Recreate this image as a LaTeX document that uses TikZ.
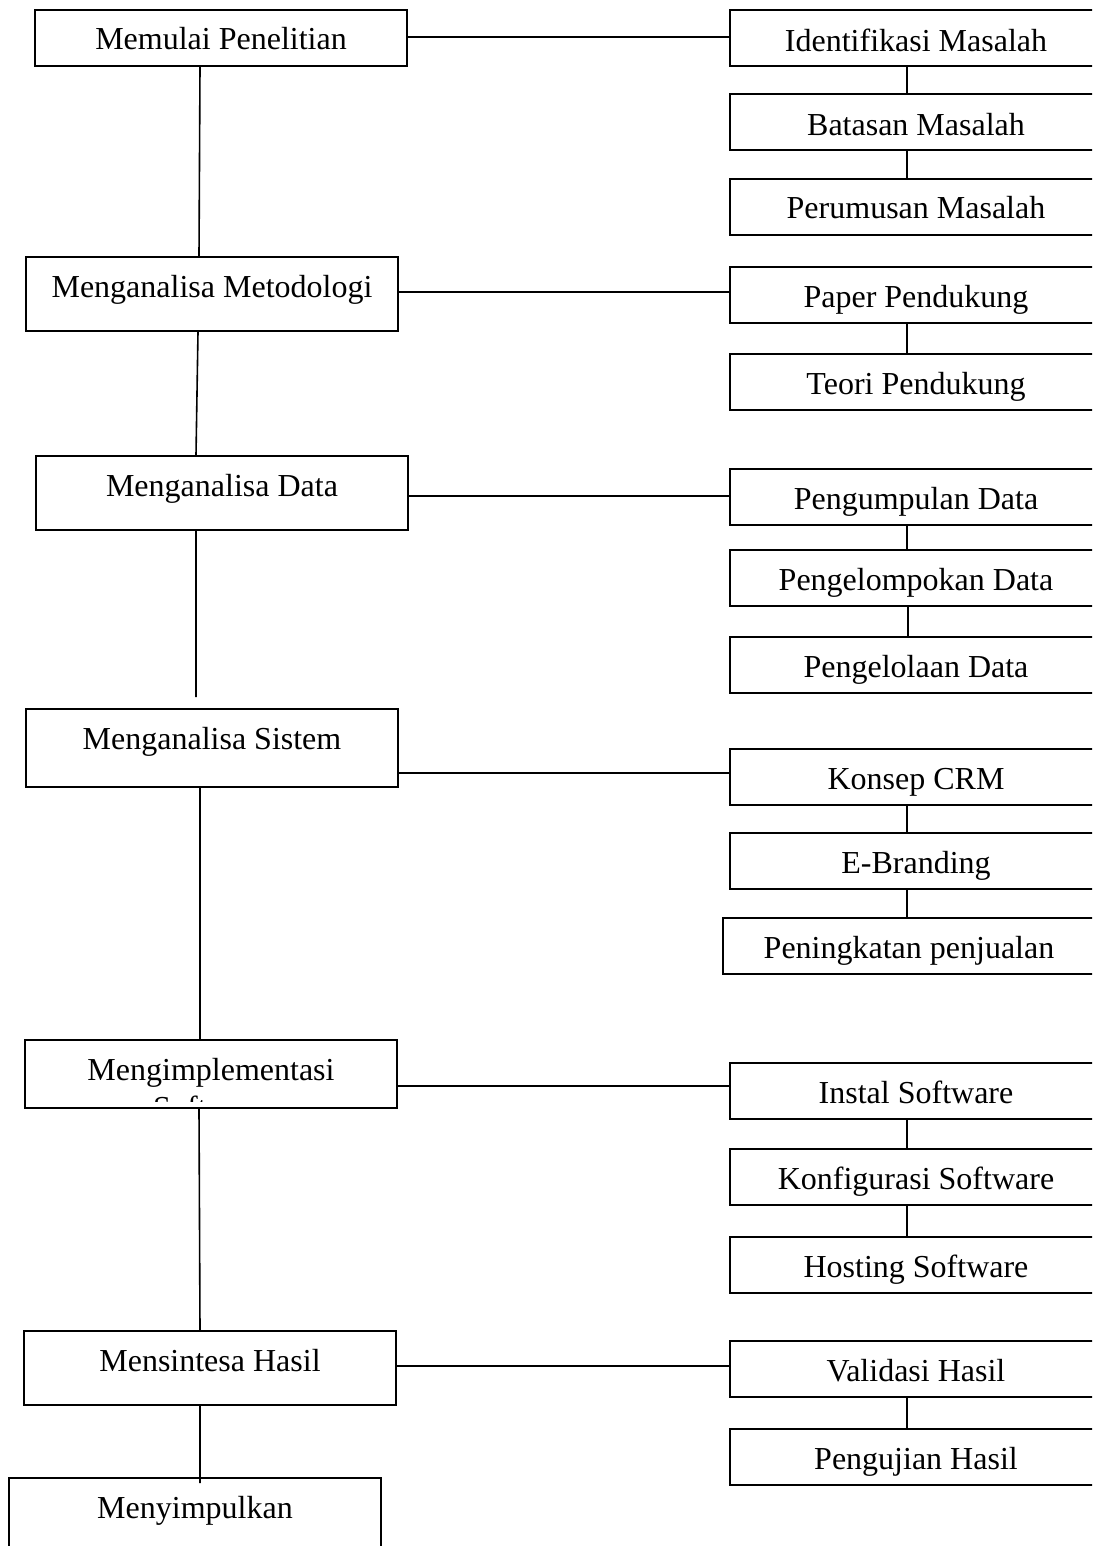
\documentclass[tikz,border=0pt]{standalone}
\usepackage{fontspec}
\setmainfont{Liberation Serif}

\tikzset{
	box/.style={draw, line width=1pt, inner sep=0pt, anchor=north west,
		minimum width=186pt, text height=20pt, text depth=#1,
		font=\fontsize{16}{18.5}\selectfont},
	box/.default=8pt,
	link/.style={line width=0.8pt}
}

\begin{document}
\begin{tikzpicture}[x=0.5pt, y=-0.5pt]
		\clip (0,0) rectangle (1092,1546);

		% tahapan utama
		\node [box=8pt] (memulai) at (34,9) {Memulai Penelitian};
		\node [box=17pt] (metodologi) at (25,256) {Menganalisa Metodologi};
		\node [box=17pt] (data) at (35,455) {Menganalisa Data};
		\node [box=19pt] (sistem) at (25,708) {Menganalisa Sistem};
		\node [box=14pt] (impl) at (24,1039) {Mengimplementasi};
		\node [box=17pt] (sintesa) at (23,1330) {Mensintesa Hasil};
		\node [box=25pt] (simpul) at (8,1477) {Menyimpulkan};

		\begin{scope}
			\clip (impl.north west) rectangle ([yshift=4pt]impl.south east);
			\node [anchor=base, font=\fontsize{16}{18.5}\selectfont] (implsoft) at ([yshift=-19pt]impl.base) {Software};
		\end{scope}

		% rincian
		\node [box, text height=21pt, text depth=7pt] (identifikasi) at (729,9) {Identifikasi Masalah};
		\node [box, text height=21pt, text depth=7pt] (batasan) at (729,93) {Batasan Masalah};
		\node [box] (perumusan) at (729,178) {Perumusan Masalah};
		\node [box] (paper) at (729,266) {Paper Pendukung};
		\node [box] (teori) at (729,353) {Teori Pendukung};
		\node [box] (kumpul) at (729,468) {Pengumpulan Data};
		\node [box] (kelompok) at (729,549) {Pengelompokan Data};
		\node [box] (kelola) at (729,636) {Pengelolaan Data};
		\node [box] (crm) at (729,748) {Konsep CRM};
		\node [box] (branding) at (729,832) {E-Branding};
		\node [box] (penjualan) at (722,917) {Peningkatan penjualan};
		\node [box] (instal) at (729,1062) {Instal Software};
		\node [box] (konfigurasi) at (729,1148) {Konfigurasi Software};
		\node [box] (hosting) at (729,1236) {Hosting Software};
		\node [box] (validasi) at (729,1340) {Validasi Hasil};
		\node [box] (uji) at (729,1428) {Pengujian Hasil};

		% alur kiri
		\draw [link]
		([xshift=83pt]memulai.south west) -- ([xshift=87pt]metodologi.north west)
		([xshift=86.5pt]metodologi.south west) -- ([xshift=80.5pt]data.north west)
		([xshift=80.5pt]data.south west) -- ([xshift=85.5pt, yshift=5.5pt]sistem.north west)
		([xshift=87.5pt]sistem.south west) -- ([xshift=88pt]impl.north west)
		([xshift=87.5pt]impl.south west) -- ([xshift=88.5pt]sintesa.north west)
		([xshift=88.5pt]sintesa.south west) -- ([xshift=96pt, yshift=-3pt]simpul.north west);

		% ke rincian
		\draw [link]
		([yshift=-14pt]memulai.north east) -- ([yshift=-14pt]identifikasi.north west)
		([yshift=-18pt]metodologi.north east) -- ([yshift=-13pt]paper.north west)
		([yshift=-20.5pt]data.north east) -- ([yshift=-14pt]kumpul.north west)
		([yshift=-32.5pt]sistem.north east) -- ([yshift=-12.5pt]crm.north west)
		([yshift=-23.5pt]impl.north east) -- ([yshift=-12pt]instal.north west)
		([yshift=-18pt]sintesa.north east) -- ([yshift=-13pt]validasi.north west);

		% alur kanan
		\draw [link]
		([xshift=89pt]identifikasi.south west) -- ([xshift=89pt]batasan.north west)
		([xshift=89pt]batasan.south west) -- ([xshift=89pt]perumusan.north west)
		([xshift=89pt]paper.south west) -- ([xshift=89pt]teori.north west)
		([xshift=89pt]kumpul.south west) -- ([xshift=89pt]kelompok.north west)
		([xshift=89.5pt]kelompok.south west) -- ([xshift=89.5pt]kelola.north west)
		([xshift=89pt]crm.south west) -- ([xshift=89pt]branding.north west)
		([xshift=89pt]branding.south west) -- ([xshift=92.5pt]penjualan.north west)
		([xshift=89pt]instal.south west) -- ([xshift=89pt]konfigurasi.north west)
		([xshift=89pt]konfigurasi.south west) -- ([xshift=89pt]hosting.north west)
		([xshift=89pt]validasi.south west) -- ([xshift=89pt]uji.north west);
	\end{tikzpicture}
\end{document}
